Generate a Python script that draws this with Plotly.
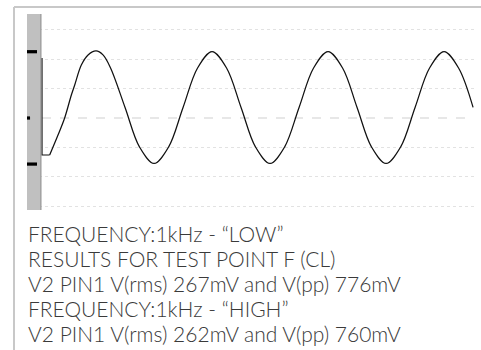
import plotly.graph_objects as go

# ---- data (time in ms, voltage in mV) ----
edge_t = [0.0, 0.0, 0.066]
edge_mv = [409, -252, -252]

wave_t = [0.066, 0.138, 0.196, 0.253, 0.282, 0.339, 0.397, 0.466,
          0.526, 0.591, 0.716, 0.841, 0.966, 1.091, 1.216, 1.341, 1.466,
          1.591, 1.716, 1.841, 1.966, 2.091, 2.216, 2.341, 2.466, 2.591,
          2.716, 2.841, 2.966, 3.091, 3.216, 3.341, 3.466, 3.591, 3.716]
wave_mv = [-252, -116, 2, 157, 225, 361, 430, 457,
           430, 341, 72, -198, -310, -198, 72, 341, 453,
           341, 72, -198, -310, -198, 72, 341, 453, 341,
           72, -198, -310, -198, 72, 341, 453, 341, 72]

cursor_levels_mv = [452, -314]
trigger_level_mv = [0]
grid_levels_mv = [-600, -400, -200, 200, 400, 600]

text_lines = [
    "FREQUENCY:1kHz - \u201cLOW\u201d",
    "RESULTS FOR TEST POINT F (CL)",
    "V2 PIN1 V(rms) 267mV and V(pp) 776mV",
    "FREQUENCY:1kHz - \u201cHIGH\u201d",
    "V2 PIN1 V(rms) 262mV and V(pp) 760mV",
]

X_RANGE = [-0.1293, 3.724]
Y_RANGE = [-627, 709]
BAR_RIGHT = -0.009

fig = go.Figure()

# center dashed line
fig.add_trace(go.Scatter(x=[0, X_RANGE[1]], y=[trigger_level_mv[0]] * 2, mode="lines",
                         line=dict(color="#cfcfcf", width=1, dash="dash"),
                         hoverinfo="skip", showlegend=False))

fig.add_trace(go.Scatter(x=edge_t, y=edge_mv, mode="lines",
                         line=dict(color="#111111", width=1.2),
                         showlegend=False))
fig.add_trace(go.Scatter(x=wave_t, y=wave_mv, mode="lines",
                         line=dict(color="#111111", width=1.25, shape="spline", smoothing=1.0),
                         showlegend=False))

shapes = []
# gray side bar
shapes.append(dict(type="rect", xref="x", yref="paper", x0=X_RANGE[0], x1=BAR_RIGHT,
                   y0=0, y1=1, fillcolor="#c0c0c0", line=dict(width=0), layer="above"))
shapes.append(dict(type="line", xref="x", yref="paper", x0=BAR_RIGHT, x1=BAR_RIGHT,
                   y0=0, y1=1, line=dict(color="#8a8a8a", width=1), layer="above"))
# cursor markers
for lv in cursor_levels_mv:
    shapes.append(dict(type="rect", xref="x", yref="y", x0=X_RANGE[0], x1=-0.043,
                       y0=lv - 11, y1=lv + 11, fillcolor="#000000", line=dict(width=0), layer="above"))
for lv in trigger_level_mv:
    shapes.append(dict(type="rect", xref="x", yref="y", x0=X_RANGE[0], x1=-0.103,
                       y0=lv - 11, y1=lv + 11, fillcolor="#000000", line=dict(width=0), layer="above"))
# outer frame
shapes.append(dict(type="line", xref="paper", yref="paper", x0=-0.0291, x1=1.2,
                   y0=1.0357, y1=1.0357, line=dict(color="#c8c8c8", width=2)))
shapes.append(dict(type="line", xref="paper", yref="paper", x0=-0.0291, x1=-0.0291,
                   y0=1.0357, y1=-0.72, line=dict(color="#c8c8c8", width=2)))

annotations = []
line_y_px = [233, 258, 283, 308, 333]
for txt, ypx in zip(text_lines, line_y_px):
    annotations.append(dict(text=txt, xref="paper", yref="paper",
                            x=(25.5 - 27) / 447, y=(210 - ypx) / 196,
                            xanchor="left", yanchor="middle", showarrow=False,
                            font=dict(family="Lato", size=21, color="#3a3a3a", weight=300)))

fig.update_layout(
    width=481, height=350,
    margin=dict(l=27, r=7, t=14, b=140),
    paper_bgcolor="white", plot_bgcolor="white",
    shapes=shapes, annotations=annotations,
    xaxis=dict(range=X_RANGE, showgrid=False, zeroline=False, showticklabels=False,
               ticks="", showline=False),
    yaxis=dict(range=Y_RANGE, tickmode="array", tickvals=grid_levels_mv,
               showgrid=True, gridcolor="#e2e2e2", griddash="dot", gridwidth=1,
               zeroline=False, showticklabels=False, ticks="", showline=False),
)

fig.write_html("out.html", config={"displayModeBar": False},
               post_script="document.body.style.margin='0';document.body.style.overflow='hidden';")
